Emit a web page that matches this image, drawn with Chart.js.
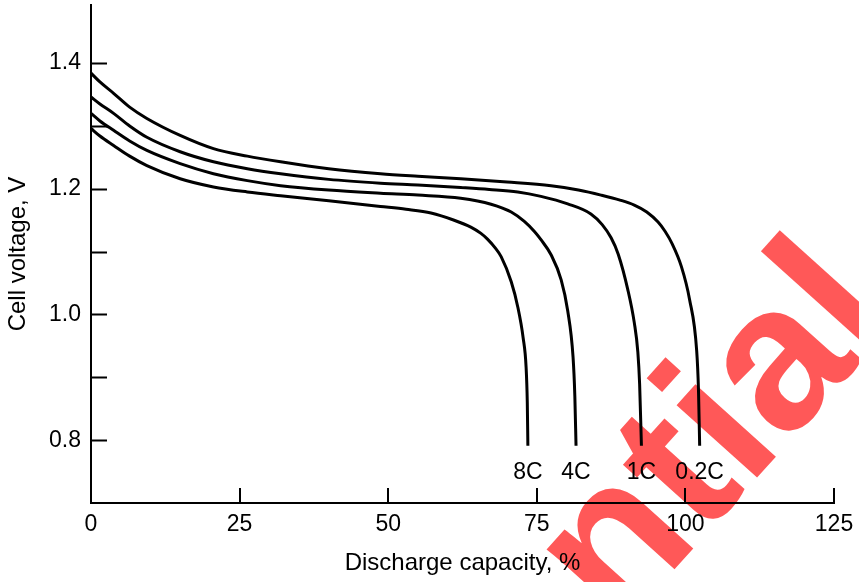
<!DOCTYPE html>
<html>
<head>
<meta charset="utf-8">
<script src="https://cdn.jsdelivr.net/npm/chart.js@4.4.1/dist/chart.umd.min.js"></script>
<style>
  html, body { margin: 0; padding: 0; background: #ffffff; }
  #wrap { width: 859px; height: 582px; position: relative; }
</style>
</head>
<body>
<div id="wrap"><canvas id="chart" width="859" height="582"></canvas></div>
<script>
// Discharge curves: capacity (%) vs cell voltage (V) at four rates
const rateNames = ['0.2C', '1C', '4C', '8C'];

const cap02C  = [0, 1.5, 3.8, 6.5, 9.4, 15.0, 20.6, 26.3, 31.9, 40, 48.7, 55, 62.2, 70, 77.4, 82, 85.8, 89, 91.4, 93.5, 95.4, 96.6, 97.8, 99.3, 100.7, 101.9, 102.2, 102.4];
const volt02C = [1.384, 1.370, 1.352, 1.330, 1.312, 1.285, 1.264, 1.252, 1.243, 1.232, 1.224, 1.220, 1.216, 1.211, 1.205, 1.198, 1.190, 1.182, 1.174, 1.163, 1.147, 1.132, 1.112, 1.077, 1.024, 0.942, 0.88, 0.791];

const cap1C  = [0, 1.5, 3.8, 6.5, 9.4, 15.0, 20.6, 26.3, 31.9, 40, 48.7, 55, 62.2, 67, 71.8, 75.7, 80.2, 84.1, 86, 87.5, 88.7, 90.3, 91.4, 92.0, 92.3, 92.6];
const volt1C = [1.346, 1.335, 1.320, 1.300, 1.282, 1.259, 1.243, 1.232, 1.224, 1.215, 1.209, 1.206, 1.202, 1.199, 1.195, 1.188, 1.176, 1.160, 1.143, 1.122, 1.096, 1.040, 0.987, 0.94, 0.889, 0.791];

const cap4C  = [0, 1.5, 3.8, 6.5, 9.4, 15.0, 20.6, 26.3, 31.9, 40, 48.7, 55, 62.2, 67.3, 70.7, 72.9, 74.6, 75.7, 77.4, 79.1, 80.2, 81.1, 81.4, 81.6];
const volt4C = [1.320, 1.308, 1.293, 1.276, 1.261, 1.240, 1.224, 1.213, 1.205, 1.198, 1.193, 1.190, 1.185, 1.1755, 1.163, 1.148, 1.132, 1.119, 1.095, 1.055, 1.006, 0.932, 0.87, 0.791];

const cap8C  = [0, 1.5, 3.8, 6.5, 9.4, 15.0, 20.6, 26.3, 31.9, 40, 48.7, 53, 57.2, 61.1, 63.9, 65.6, 66.7, 68, 69.0, 70.7, 71.8, 72.7, 73.2, 73.4, 73.5];
const volt8C = [1.296, 1.284, 1.269, 1.252, 1.237, 1.216, 1.203, 1.195, 1.189, 1.181, 1.172, 1.1675, 1.1615, 1.150, 1.139, 1.129, 1.120, 1.106, 1.092, 1.052, 1.012, 0.963, 0.916, 0.86, 0.791];

// Axis ticks
const xTickValues = [0, 25, 50, 75, 100, 125];
const yTickValues = [0.8, 0.9, 1.0, 1.1, 1.2, 1.3, 1.4];
const yLabeledTicks = [0.8, 1.0, 1.2, 1.4];

// Voltage level at which the rate names are written under each curve
const rateLabelVolt = 0.748;

const FONT = "'Liberation Sans', Arial, Helvetica, sans-serif";

function toPoints(xs, ys) {
  return xs.map((x, i) => ({ x: x, y: ys[i] }));
}

const seriesCaps  = [cap02C, cap1C, cap4C, cap8C];
const seriesVolts = [volt02C, volt1C, volt4C, volt8C];

const datasets = rateNames.map((name, i) => ({
  label: name,
  data: toPoints(seriesCaps[i], seriesVolts[i]),
  borderColor: '#000000',
  borderWidth: 3,
  pointRadius: 0,
  fill: false,
  cubicInterpolationMode: 'monotone'
}));

// Short inward tick marks on both axes
const inwardTicks = {
  id: 'inwardTicks',
  afterDatasetsDraw(chart) {
    const { ctx, chartArea, scales } = chart;
    ctx.save();
    ctx.strokeStyle = '#000';
    ctx.lineWidth = 2;
    ctx.beginPath();
    yTickValues.forEach(v => {
      const py = Math.round(scales.y.getPixelForValue(v)) + 0.5;
      ctx.moveTo(chartArea.left, py);
      ctx.lineTo(chartArea.left + 16, py);
    });
    xTickValues.forEach(v => {
      if (v === 0) return;
      const px = Math.round(scales.x.getPixelForValue(v));
      ctx.moveTo(px, chartArea.bottom);
      ctx.lineTo(px, chartArea.bottom - 15);
    });
    ctx.stroke();
    ctx.restore();
  }
};

// Rate names written under the end of each curve
const rateTags = {
  id: 'rateTags',
  afterDatasetsDraw(chart) {
    const { ctx, scales } = chart;
    ctx.save();
    ctx.fillStyle = '#000';
    ctx.font = '23px ' + FONT;
    ctx.textAlign = 'center';
    ctx.textBaseline = 'middle';
    rateNames.forEach((name, i) => {
      const caps = seriesCaps[i];
      const px = scales.x.getPixelForValue(caps[caps.length - 1]);
      const py = scales.y.getPixelForValue(rateLabelVolt);
      ctx.fillText(name, px, py);
    });
    ctx.restore();
  }
};

// Red diagonal stamp across the lower right
const stamp = {
  id: 'stamp',
  afterDraw(chart) {
    const { ctx } = chart;
    const word = 'Confidential';
    const lead = 'Confide';
    ctx.save();
    ctx.font = 'bold 205px ' + FONT;
    ctx.translate(618, 632);
    ctx.rotate(-48 * Math.PI / 180);
    ctx.globalCompositeOperation = 'multiply';
    ctx.fillStyle = 'rgb(255, 88, 88)';
    ctx.textBaseline = 'alphabetic';
    ctx.textAlign = 'left';
    ctx.fillText(word, -ctx.measureText(lead).width, 0);
    ctx.restore();
  }
};

new Chart(document.getElementById('chart'), {
  type: 'line',
  data: { datasets: datasets },
  options: {
    responsive: false,
    devicePixelRatio: 1,
    animation: false,
    layout: { padding: { top: 5, right: 25, left: 0, bottom: 0 } },
    plugins: { legend: { display: false }, tooltip: { enabled: false } },
    scales: {
      x: {
        type: 'linear',
        min: 0,
        max: 125,
        afterBuildTicks: s => { s.ticks = xTickValues.map(v => ({ value: v })); },
        afterFit: s => { s.height = 79; s.paddingLeft = 0; s.paddingRight = 0; },
        ticks: {
          color: '#000',
          font: { family: FONT, size: 23 },
          padding: 8,
          maxRotation: 0,
          autoSkip: false,
          callback: v => String(v)
        },
        grid: { display: true, drawOnChartArea: false, drawTicks: false, color: 'rgba(0,0,0,0)' },
        border: { display: true, color: '#000', width: 2 },
        title: {
          display: true,
          text: 'Discharge capacity, %',
          color: '#000',
          font: { family: FONT, size: 24 },
          padding: { top: 0, bottom: 4 }
        }
      },
      y: {
        type: 'linear',
        min: 0.7,
        max: 1.4925,
        afterBuildTicks: s => { s.ticks = yTickValues.map(v => ({ value: v })); },
        afterFit: s => { s.width = 91; s.paddingTop = 0; s.paddingBottom = 0; },
        ticks: {
          color: '#000',
          font: { family: FONT, size: 23 },
          padding: 10,
          autoSkip: false,
          callback: v => (yLabeledTicks.some(t => Math.abs(t - v) < 1e-6) ? v.toFixed(1) : '')
        },
        grid: { display: true, drawOnChartArea: false, drawTicks: false, color: 'rgba(0,0,0,0)' },
        border: { display: true, color: '#000', width: 2 },
        title: {
          display: true,
          text: 'Cell voltage, V',
          color: '#000',
          font: { family: FONT, size: 24 },
          padding: { top: 4, bottom: 0 }
        }
      }
    }
  },
  plugins: [inwardTicks, rateTags, stamp]
});
</script>
</body>
</html>
